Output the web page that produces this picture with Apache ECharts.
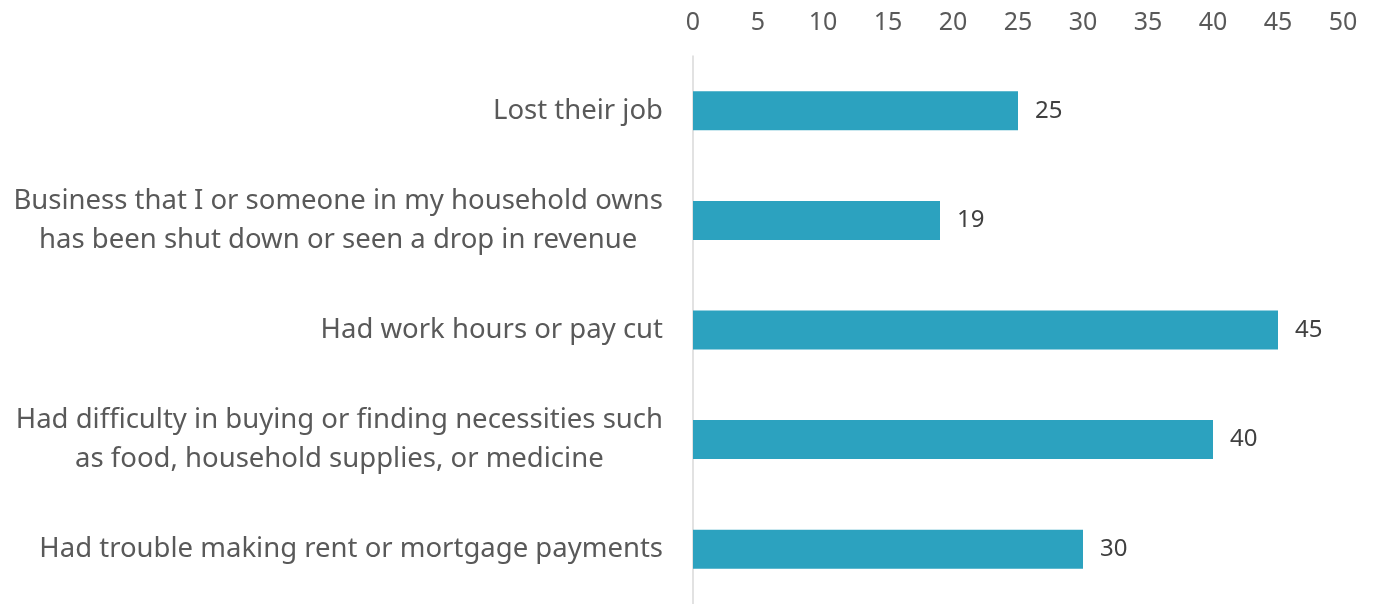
<!DOCTYPE html>
<html>
<head>
<meta charset="utf-8">
<script src="https://cdn.jsdelivr.net/npm/echarts@6/dist/echarts.min.js"></script>
<style>
    html, body { margin: 0; padding: 0; background: #ffffff; }
    #chart { width: 1375px; height: 604px; }
</style>
</head>
<body>
<div id="chart"></div>
<script>
// categories, top to bottom (each line is one row of the label)
const categories = [
    ["Lost their job"],
    ["Business that I or someone in my household owns", "has been shut down or seen a drop in revenue"],
    ["Had work hours or pay cut"],
    ["Had difficulty in buying or finding necessities such", "as food, household supplies, or medicine"],
    ["Had trouble making rent or mortgage payments"]
];
const values = [25, 19, 45, 40, 30];
const xTicks = [0, 5, 10, 15, 20, 25, 30, 35, 40, 45, 50];

const chart = echarts.init(document.getElementById("chart"));

const option = {
    animation: false,
    grid: {
        left: 693,
        right: 32,
        top: 56,
        bottom: -4,
        containLabel: false
    },
    xAxis: {
        type: "value",
        position: "top",
        min: xTicks[0],
        max: xTicks[xTicks.length - 1],
        interval: 5,
        axisLine: { show: false },
        axisTick: { show: false },
        splitLine: { show: false },
        axisLabel: {
            margin: 21,
            color: "#595959",
            fontSize: 25,
            fontFamily: "Noto Sans"
        }
    },
    yAxis: {
        type: "category",
        inverse: true,
        data: categories.map(c => c.join("\n")),
        axisLine: { show: true, lineStyle: { color: "#d9d9d9", width: 1.5 } },
        axisTick: { show: false },
        axisLabel: {
            margin: 30,
            color: "#595959",
            fontSize: 27.5,
            fontFamily: "Noto Sans",
            lineHeight: 39,
            formatter: v => v.split("\n").map(s => `{c|${s}}`).join("\n"),
            rich: {
                c: {
                    align: "center",
                    color: "#595959",
                    fontSize: 27.5,
                    fontFamily: "Noto Sans",
                    lineHeight: 39
                }
            }
        }
    },
    series: [{
        type: "bar",
        data: values,
        barWidth: 39,
        itemStyle: { color: "#2ca2bf" },
        label: {
            show: true,
            position: "right",
            distance: 17,
            color: "#404040",
            fontSize: 24,
            fontFamily: "Noto Sans"
        }
    }]
};

chart.setOption(option);
</script>
</body>
</html>
